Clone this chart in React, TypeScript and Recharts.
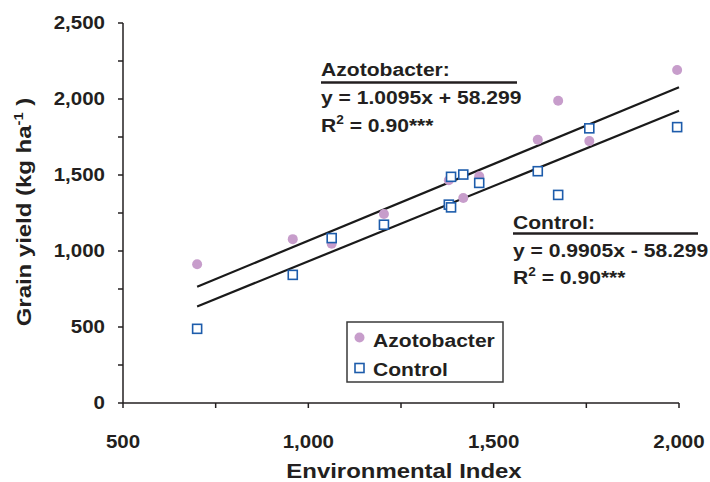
import React from 'react';
import { ScatterChart, Scatter, XAxis, YAxis, ReferenceLine, Customized } from 'recharts';

// ---- data ----
const azotoIndex = [700, 958, 1063, 1204, 1379, 1418, 1461, 1619, 1674, 1758, 1995];
const azotoYield = [913, 1078, 1048, 1244, 1465, 1349, 1492, 1732, 1989, 1723, 2191];

const controlIndex = [700, 958, 1063, 1204, 1379, 1385, 1385, 1418, 1461, 1619, 1674, 1758, 1995];
const controlYield = [488, 843, 1085, 1173, 1305, 1287, 1488, 1503, 1448, 1525, 1369, 1807, 1815];

// regression lines: [slope, intercept], fitted range
const azotoFit = [1.0095, 58.299];
const controlFit = [0.9905, -58.299];
const fitRange = [700, 2000];

const xTicks = [500, 750, 1000, 1250, 1500, 1750, 2000];
const yTicks = [0, 250, 500, 750, 1000, 1250, 1500, 1750, 2000, 2250, 2500];

const azotoData = azotoIndex.map((x, i) => ({ x, y: azotoYield[i] }));
const controlData = controlIndex.map((x, i) => ({ x, y: controlYield[i] }));
const line = (f: number[]) => fitRange.map((x) => ({ x, y: f[0] * x + f[1] }));

// ---- styles ----
const SX = 1.14;
const FONT = "'Liberation Sans', Arial, Helvetica, sans-serif";
const INK = '#231f20';
const PURPLE = '#c79dcb';
const BLUE = '#1d5cab';

const SText = ({ x, y, size, anchor = 'start', rotate = 0, children }: any) => (
  <text
    transform={`translate(${x},${y})${rotate ? ` rotate(${rotate})` : ''} scale(${SX},1)`}
    fontSize={size}
    fontWeight={700}
    fontFamily={FONT}
    textAnchor={anchor}
    fill={INK}
  >
    {children}
  </text>
);

const fmt = (v: number) => v.toLocaleString('en-US');

const YTick = (p: any) => {
  const v = p.payload.value;
  if (v % 500 !== 0) return <g />;
  return <SText x={p.x - 11} y={p.y + 6.3} size={18} anchor="end">{fmt(v)}</SText>;
};

const XTick = (p: any) => {
  const v = p.payload.value;
  if (v % 500 !== 0) return <g />;
  return <SText x={p.x} y={p.y + 38} size={18} anchor="middle">{fmt(v)}</SText>;
};

const Square = (p: any) => (
  <rect x={p.cx - 4.5} y={p.cy - 4.5} width={9} height={9} fill="#fff" stroke={BLUE} strokeWidth={1.6} />
);
const Dot = (p: any) => <circle cx={p.cx} cy={p.cy} r={5} fill={PURPLE} />;

const Annotations = () => (
  <g>
    {/* axis titles */}
    <SText x={404} y={478} size={21} anchor="middle">Environmental Index</SText>
    <SText x={31} y={212} size={21} anchor="middle" rotate={-90}>
      Grain yield (kg ha<tspan fontSize={13} dy={-8}>-1</tspan><tspan dy={8}> )</tspan>
    </SText>

    {/* Azotobacter equation */}
    <SText x={321} y={76} size={18.5}>Azotobacter:</SText>
    <line x1={321} x2={517} y1={82.5} y2={82.5} stroke={INK} strokeWidth={2.5} />
    <SText x={321} y={103.5} size={18.5}>y = 1.0095x + 58.299</SText>
    <SText x={321} y={131.5} size={18.5}>
      R<tspan fontSize={12} dy={-8}>2</tspan><tspan dy={8}> = 0.90***</tspan>
    </SText>

    {/* Control equation */}
    <SText x={513} y={228.5} size={18.5}>Control:</SText>
    <line x1={513} x2={698} y1={233.5} y2={233.5} stroke={INK} strokeWidth={2.5} />
    <SText x={513} y={257} size={18.5}>y = 0.9905x - 58.299</SText>
    <SText x={513} y={283.5} size={18.5}>
      R<tspan fontSize={12} dy={-8}>2</tspan><tspan dy={8}> = 0.90***</tspan>
    </SText>

    {/* legend */}
    <g transform="translate(347,322)">
      <rect x={0} y={0} width={156} height={60} fill="#fff" stroke="#3a3a3a" strokeWidth={1.5} />
      <circle cx={12.5} cy={15.5} r={5} fill={PURPLE} />
      <SText x={26} y={24.5} size={18.5}>Azotobacter</SText>
      <rect x={8} y={41.5} width={9} height={9} fill="#fff" stroke={BLUE} strokeWidth={1.6} />
      <SText x={26} y={54} size={18.5}>Control</SText>
    </g>
  </g>
);

export default function App() {
  return (
    <div style={{ position: 'absolute', left: 0, top: 0, width: 710, height: 482 }}>
      <ScatterChart width={710} height={482} margin={{ top: 23, right: 31, bottom: 0, left: 0 }}>
        <XAxis
          type="number"
          dataKey="x"
          domain={[500, 2000]}
          ticks={xTicks}
          tick={<XTick />}
          tickSize={5}
          tickLine={{ stroke: INK, strokeWidth: 1.5 }}
          axisLine={{ stroke: INK, strokeWidth: 1.5 }}
          height={79}
          interval={0}
        />
        <YAxis
          type="number"
          dataKey="y"
          domain={[0, 2500]}
          ticks={yTicks}
          tick={<YTick />}
          tickSize={5}
          tickLine={{ stroke: INK, strokeWidth: 1.5 }}
          axisLine={{ stroke: INK, strokeWidth: 1.5 }}
          width={123}
          interval={0}
        />
        <Scatter name="Azotobacter" data={azotoData} shape={<Dot />} isAnimationActive={false} />
        <Scatter name="Control" data={controlData} shape={<Square />} isAnimationActive={false} />
        <ReferenceLine segment={line(azotoFit)} stroke="#1a1a1a" strokeWidth={2.2} ifOverflow="visible" />
        <ReferenceLine segment={line(controlFit)} stroke="#1a1a1a" strokeWidth={2.2} ifOverflow="visible" />
        <Customized component={Annotations} />
      </ScatterChart>
    </div>
  );
}
